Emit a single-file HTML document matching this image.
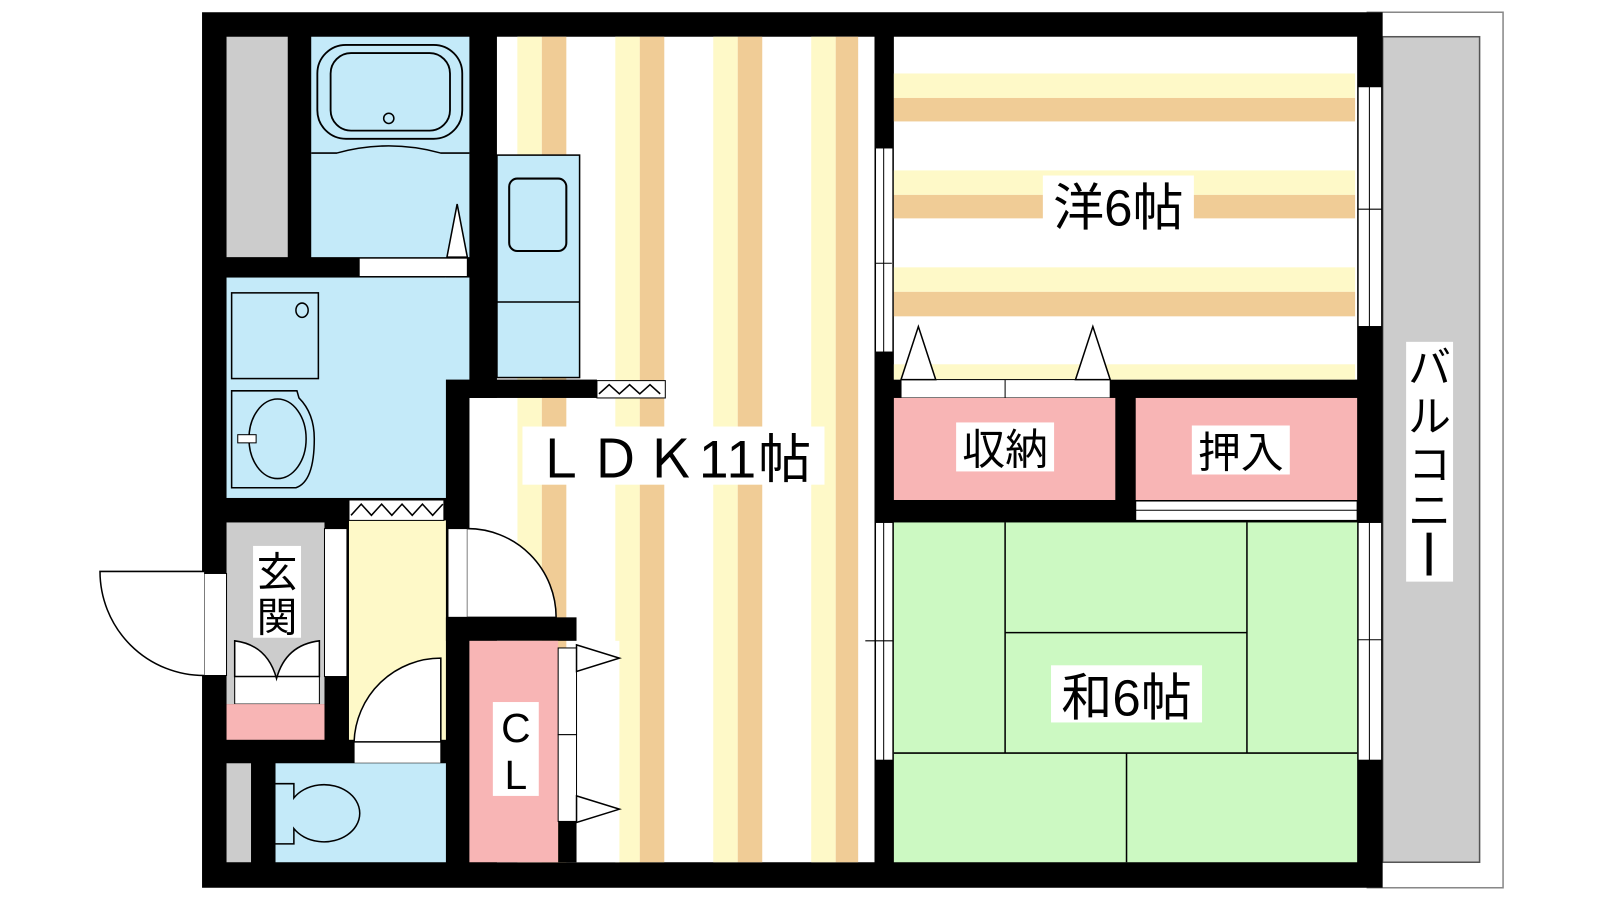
<!DOCTYPE html>
<html><head><meta charset="utf-8"><style>
html,body{margin:0;padding:0;background:#fff;width:1600px;height:900px;overflow:hidden}
svg{display:block}
text{font-family:"Liberation Sans","Noto Sans CJK JP",sans-serif;fill:#000}
</style></head><body>
<svg width="1600" height="900" viewBox="0 0 1568 882" preserveAspectRatio="none" xmlns="http://www.w3.org/2000/svg">
<rect width="1568" height="882" fill="#fff"/>
<!-- balcony -->
<rect x="1340" y="12" width="133" height="858" fill="#fff" stroke="#888" stroke-width="1.5"/>
<rect x="1355" y="36" width="95" height="809" fill="#ccc" stroke="#555" stroke-width="1.5"/>
<!-- outer walls -->
<rect x="198" y="12" width="1157" height="858" fill="#000"/>
<!-- LDK -->
<rect x="487" y="36" width="370" height="809" fill="#fff"/>
<g fill="#fef9c8"><rect x="507" y="36" width="24" height="809"/><rect x="603" y="36" width="24" height="809"/><rect x="699" y="36" width="24" height="809"/><rect x="795" y="36" width="24" height="809"/></g>
<g fill="#f0cc96"><rect x="531" y="36" width="24" height="809"/><rect x="627" y="36" width="24" height="809"/><rect x="723" y="36" width="24" height="809"/><rect x="819" y="36" width="22" height="809"/></g>
<rect x="460" y="390" width="47" height="215" fill="#fff"/>
<rect x="565" y="628" width="42" height="217" fill="#fff"/>
<!-- wall LDK upper left -->
<rect x="437" y="372" width="148" height="18" fill="#000"/>
<rect x="437" y="372" width="23" height="473" fill="#000"/>
<rect x="585" y="373" width="67" height="17" fill="#fff" stroke="#000"/>
<polyline points="587,386 597,377 607,386 617,377 627,386 637,377 647,386" fill="none" stroke="#000" stroke-width="1.5"/>
<!-- kitchen -->
<rect x="487" y="152" width="81" height="218" fill="#c4eaf9" stroke="#000" stroke-width="1.5"/>
<line x1="487" y1="296" x2="568" y2="296" stroke="#000" stroke-width="1.5"/>
<rect x="499" y="175" width="56" height="71" rx="8" fill="none" stroke="#000" stroke-width="2"/>
<!-- left strip, bath -->
<rect x="222" y="36" width="60" height="216" fill="#ccc"/>
<rect x="305" y="36" width="155" height="216" fill="#c4eaf9"/>
<rect x="311" y="44" width="142" height="92" rx="28" fill="none" stroke="#000" stroke-width="1.8"/>
<rect x="324" y="52" width="117" height="76" rx="20" fill="none" stroke="#000" stroke-width="1.8"/>
<circle cx="381" cy="116" r="5" fill="none" stroke="#000" stroke-width="1.5"/>
<path d="M305 150 L330 150 Q381 136 432 150 L460 150" fill="none" stroke="#000" stroke-width="1.5"/>
<rect x="352" y="253" width="106" height="18" fill="#fff" stroke="#000"/>
<polygon points="438,252 448,200 458,252" fill="#fff" stroke="#000" stroke-width="1.5"/>
<!-- washroom -->
<rect x="222" y="272" width="215" height="216" fill="#c4eaf9"/>
<rect x="436" y="272" width="24" height="100" fill="#c4eaf9"/>
<rect x="227" y="287" width="85" height="84" fill="none" stroke="#000" stroke-width="1.5"/>
<ellipse cx="296" cy="304" rx="6" ry="7" fill="none" stroke="#000" stroke-width="1.5"/>
<path d="M227 383 L291 383 L293 390 Q308 405 308 430 Q308 472 290 478 L227 478 Z" fill="none" stroke="#000" stroke-width="1.5"/>
<ellipse cx="272" cy="430" rx="28" ry="39" fill="none" stroke="#000" stroke-width="1.5"/>
<rect x="233" y="426" width="18" height="8" fill="#fff" stroke="#000"/>
<!-- hallway -->
<rect x="342" y="510" width="95" height="215" fill="#fef9c8"/>
<rect x="342" y="490" width="93" height="20" fill="#fff" stroke="#000"/>
<polyline points="344,505 354,494 364,505 374,494 384,505 394,494 404,505 414,494 424,505 434,494" fill="none" stroke="#000" stroke-width="1.5"/>
<!-- door hall->LDK -->
<rect x="439" y="518" width="19" height="87" fill="#fff" stroke="#000"/>
<path d="M458 518 A87 87 0 0 1 545 605 L458 605" fill="#fff" stroke="#000" stroke-width="1.5"/>
<!-- genkan -->
<rect x="222" y="512" width="96" height="178" fill="#ccc"/>
<rect x="318" y="518" width="22" height="145" fill="#fff" stroke="#000"/>
<rect x="200" y="562" width="22" height="100" fill="#fff" stroke="#000"/>
<path d="M200 560 L98 560 A102 102 0 0 0 200 662" fill="#fff" stroke="#000" stroke-width="1.5"/>
<rect x="230" y="663" width="83" height="27" fill="#fff" stroke="#000"/>
<path d="M230 663 L230 628 Q262 632 271 665 Q280 632 313 628 L313 663 Z" fill="#fff" stroke="#000" stroke-width="1.5"/>
<rect x="222" y="690" width="96" height="35" fill="#f8b5b5"/>
<rect x="248" y="535" width="47" height="90" fill="#fff"/>
<text x="271.5" y="575" font-size="40" text-anchor="middle">玄</text>
<text x="271.5" y="619" font-size="40" text-anchor="middle">関</text>
<!-- toilet door -->
<rect x="347" y="727" width="85" height="21" fill="#fff" stroke="#000"/>
<path d="M347 727 A85 85 0 0 1 432 645 L432 727 Z" fill="#fff" stroke="#000" stroke-width="1.5"/>
<!-- toilet -->
<rect x="222" y="748" width="24" height="97" fill="#ccc"/>
<rect x="270" y="748" width="167" height="97" fill="#c4eaf9"/>
<path d="M270 768 L288 768 L288 782 A35 28 0 1 1 288 812 L288 827 L270 827" fill="none" stroke="#000" stroke-width="1.5"/>
<!-- CL -->
<rect x="437" y="605" width="128" height="23" fill="#000"/>
<rect x="460" y="628" width="87" height="217" fill="#f8b5b5"/>
<rect x="547" y="635" width="18" height="85" fill="#fff" stroke="#000"/>
<rect x="547" y="720" width="18" height="85" fill="#fff" stroke="#000"/>
<rect x="547" y="805" width="18" height="40" fill="#000"/>
<polygon points="565,632 607,645 565,658" fill="#fff" stroke="#000" stroke-width="1.5"/>
<polygon points="565,780 607,793 565,806" fill="#fff" stroke="#000" stroke-width="1.5"/>
<rect x="483" y="688" width="45" height="92" fill="#fff"/>
<text x="505.5" y="727" font-size="40" text-anchor="middle">C</text>
<text x="505.5" y="773" font-size="40" text-anchor="middle">L</text>
<!-- LDK label -->
<rect x="512" y="418" width="296" height="57" fill="#fff"/>
<text x="660" y="468" font-size="52" text-anchor="middle" letter-spacing="2">ＬＤＫ11帖</text>
<!-- Western room -->
<rect x="876" y="36" width="454" height="336" fill="#fff"/>
<g fill="#fef9c8"><rect x="876" y="72" width="452" height="24"/><rect x="876" y="167" width="452" height="24"/><rect x="876" y="262" width="452" height="24"/><rect x="876" y="357" width="452" height="15"/></g>
<g fill="#f0cc96"><rect x="876" y="96" width="452" height="23"/><rect x="876" y="191" width="452" height="23"/><rect x="876" y="286" width="452" height="24"/></g>
<rect x="1022" y="172" width="148" height="56" fill="#fff"/>
<text x="1096" y="221" font-size="50" text-anchor="middle">洋6帖</text>
<!-- windows -->
<g fill="#fff" stroke="#000" stroke-width="1">
<rect x="858" y="145" width="17" height="200"/><rect x="858" y="512" width="17" height="233"/>
<rect x="1331" y="85" width="23" height="235"/><rect x="1331" y="512" width="23" height="233"/>
</g>
<g stroke="#000" stroke-width="1">
<line x1="866" y1="145" x2="866" y2="345"/><line x1="866" y1="512" x2="866" y2="745"/>
<line x1="1342" y1="85" x2="1342" y2="320"/><line x1="1342" y1="512" x2="1342" y2="745"/>
<line x1="858" y1="258" x2="874" y2="258"/><line x1="848" y1="628" x2="884" y2="628"/>
<line x1="1331" y1="205" x2="1354" y2="205"/><line x1="1331" y1="627" x2="1354" y2="627"/>
</g>
<!-- closets -->
<rect x="883" y="372" width="205" height="18" fill="#fff" stroke="#000"/>
<line x1="985" y1="372" x2="985" y2="390" stroke="#000"/>
<polygon points="883,372 900,320 917,372" fill="#fff" stroke="#000" stroke-width="1.5"/>
<polygon points="1054,372 1071,320 1088,372" fill="#fff" stroke="#000" stroke-width="1.5"/>
<rect x="876" y="390" width="217" height="100" fill="#f8b5b5"/>
<rect x="1113" y="390" width="217" height="100" fill="#f8b5b5"/>
<rect x="1113" y="491" width="217" height="19" fill="#fff" stroke="#000"/>
<line x1="1113" y1="500" x2="1330" y2="500" stroke="#000"/>
<rect x="937" y="414" width="96" height="48" fill="#fff"/>
<text x="985" y="455" font-size="42" text-anchor="middle">収納</text>
<rect x="1168" y="417" width="96" height="48" fill="#fff"/>
<text x="1216" y="458" font-size="42" text-anchor="middle">押入</text>
<!-- Japanese room -->
<rect x="876" y="512" width="454" height="333" fill="#ccf9c2"/>
<g stroke="#000" stroke-width="1.5">
<line x1="985" y1="512" x2="985" y2="738"/><line x1="1222" y1="512" x2="1222" y2="738"/>
<line x1="985" y1="620" x2="1222" y2="620"/><line x1="876" y1="738" x2="1330" y2="738"/>
<line x1="1104" y1="738" x2="1104" y2="845"/>
</g>
<rect x="1030" y="652" width="148" height="56" fill="#fff"/>
<text x="1104" y="701" font-size="50" text-anchor="middle">和6帖</text>
<!-- balcony label -->
<rect x="1378" y="335" width="46" height="235" fill="#fff"/>
<g font-size="42" text-anchor="middle">
<text x="1401" y="375">バ</text><text x="1401" y="423">ル</text><text x="1401" y="470">コ</text><text x="1401" y="515">ニ</text>
</g>
<rect x="1398" y="522" width="5" height="42" fill="#000"/>
</svg>
</body></html>
